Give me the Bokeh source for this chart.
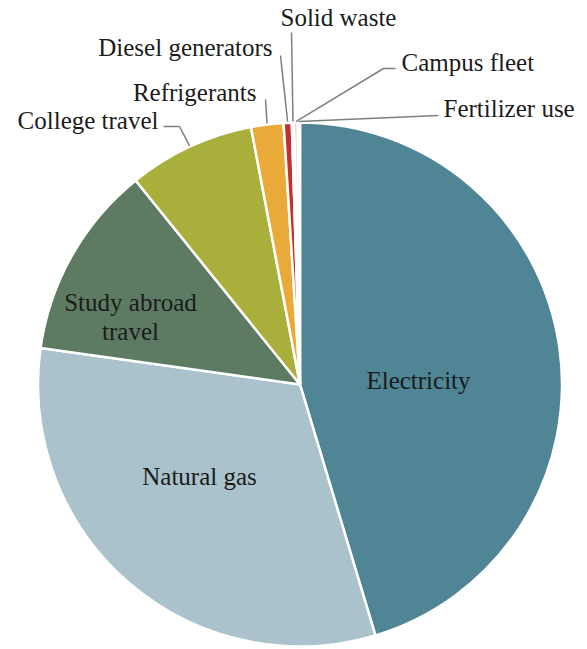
import numpy as np
from bokeh.plotting import figure
from bokeh.models import Range1d
from bokeh.core.properties import value
from bokeh.embed import file_html
from bokeh.resources import INLINE

# ---- data ----
categories = ["Electricity", "Natural gas", "Study abroad travel", "College travel",
              "Refrigerants", "Diesel generators", "Solid waste", "Campus fleet",
              "Fertilizer use"]
shares = [45.4, 31.9, 12.0, 7.8, 2.0, 0.5, 0.15, 0.2, 0.15]
colors = ["#4f8595", "#a9c2cb", "#5d7b62", "#a8af3a", "#eaaa3a", "#c1322e",
          "#c1322e", "#f2826e", "#f6b9a6"]

# ---- layout ----
W, H = 587, 649
IMG_H = 649
def Y(yimg):
    return IMG_H - yimg

cx, cy, R = 299.5, 384.0, 262.0
FONT = value("Liberation Serif")
FS = "25px"
TXT = "#1b1b1b"

p = figure(width=W, height=H, output_backend="svg", toolbar_location=None,
           x_range=Range1d(0, W), y_range=Range1d(IMG_H - H, IMG_H),
           min_border=0, outline_line_color=None)
p.axis.visible = False
p.grid.visible = False
p.background_fill_color = "white"
p.border_fill_color = "white"

vals = np.array(shares, dtype=float)
frac = vals / vals.sum()
cum_end = np.cumsum(frac)
cum_start = cum_end - frac
start = np.pi / 2 - 2 * np.pi * cum_start
end = np.pi / 2 - 2 * np.pi * cum_end

p.wedge(x=cx, y=Y(cy), radius=R, start_angle=start, end_angle=end,
        direction="clock", fill_color=colors, line_color="white", line_width=2.5)

# mid angle (clockwise from top) per slice
mid = 2 * np.pi * (cum_start + cum_end) / 2
def edge(i, extra=1.0):
    t = mid[i]
    return cx + (R + extra) * np.sin(t), cy - (R + extra) * np.cos(t)

# inside labels
p.text(x=[418], y=[Y(380)], text=[categories[0]], text_font=FONT, text_font_size=FS,
       text_align="center", text_baseline="middle", text_color=TXT)
p.text(x=[199], y=[Y(476)], text=[categories[1]], text_font=FONT, text_font_size=FS,
       text_align="center", text_baseline="middle", text_color=TXT)
p.text(x=[130, 130], y=[Y(302), Y(331)], text=["Study abroad", "travel"], text_font=FONT,
       text_font_size=FS, text_align="center", text_baseline="middle", text_color=TXT)

# outside labels: (index, text x, text y, align, leader points before edge)
outside = [
    (3, 158, 120, "right", [(163, 126), (179, 126)]),
    (4, 256, 92, "right", [(265, 99)]),
    (5, 272, 47, "right", [(280, 55)]),
    (6, 280, 17, "left", [(291, 32)]),
    (7, 401, 62, "left", [(395, 68), (383, 68)]),
    (8, 443, 108, "left", [(438, 115)]),
]
for i, tx, ty, al, pts in outside:
    ex, ey = edge(i)
    xs = [q[0] for q in pts] + [ex]
    ys = [Y(q[1]) for q in pts] + [Y(ey)]
    p.line(xs, ys, line_color="#7f7f7f", line_width=1.5)
    p.text(x=[tx], y=[Y(ty)], text=[categories[i]], text_font=FONT, text_font_size=FS,
           text_align=al, text_baseline="middle", text_color=TXT)

open("out.html", "w").write(file_html(p, INLINE))
